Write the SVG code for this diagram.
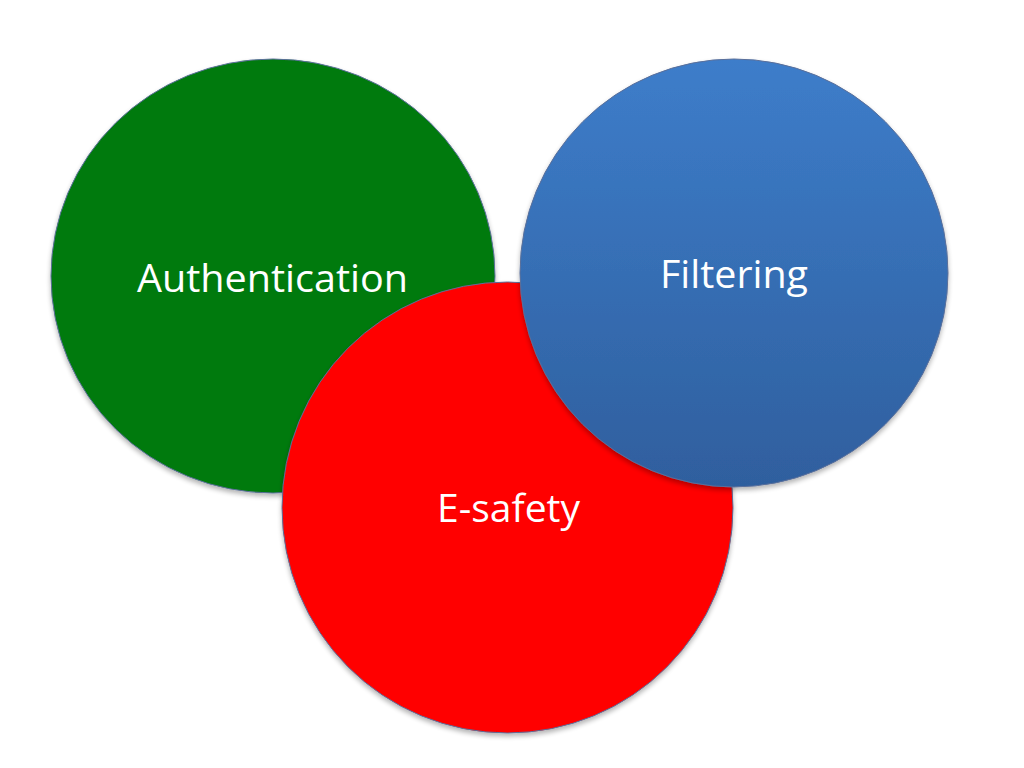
<svg xmlns="http://www.w3.org/2000/svg" width="1024" height="768" viewBox="0 0 1024 768">
  <style>
    .lbl { font-family: "Open Sans", "Liberation Sans", sans-serif; font-size: 38px; fill: #ffffff; text-anchor: middle; }
    .circ { stroke: #5a6f9a; stroke-width: 1; filter: url(#shadow); }
  </style>
  <defs>
    <linearGradient id="blueGrad" x1="0" y1="0" x2="0" y2="1">
      <stop offset="0" stop-color="#3d7dca"/>
      <stop offset="1" stop-color="#2f5f9e"/>
    </linearGradient>
    <filter id="shadow" x="-10%" y="-10%" width="120%" height="125%">
      <feGaussianBlur in="SourceAlpha" stdDeviation="2.5"/>
      <feOffset dx="0" dy="3" result="b"/>
      <feComponentTransfer><feFuncA type="linear" slope="0.3"/></feComponentTransfer>
      <feMerge><feMergeNode/><feMergeNode in="SourceGraphic"/></feMerge>
    </filter>
  </defs>
  <rect width="1024" height="768" fill="#ffffff"/>
  <g id="authentication">
    <ellipse class="circ" cx="273" cy="276" rx="222" ry="217" fill="#007a0a"/>
    <text class="lbl" x="272.5" y="292" textLength="271" lengthAdjust="spacingAndGlyphs">Authentication</text>
  </g>
  <g id="esafety">
    <circle class="circ" cx="507.5" cy="507.5" r="225.5" fill="#ff0000"/>
    <text class="lbl" x="508.5" y="522" textLength="143" lengthAdjust="spacingAndGlyphs">E-safety</text>
  </g>
  <g id="filtering">
    <circle class="circ" cx="734" cy="273" r="214" fill="url(#blueGrad)"/>
    <text class="lbl" x="734" y="288" textLength="148" lengthAdjust="spacingAndGlyphs">Filtering</text>
  </g>
  <g id="connectors"></g>
</svg>
